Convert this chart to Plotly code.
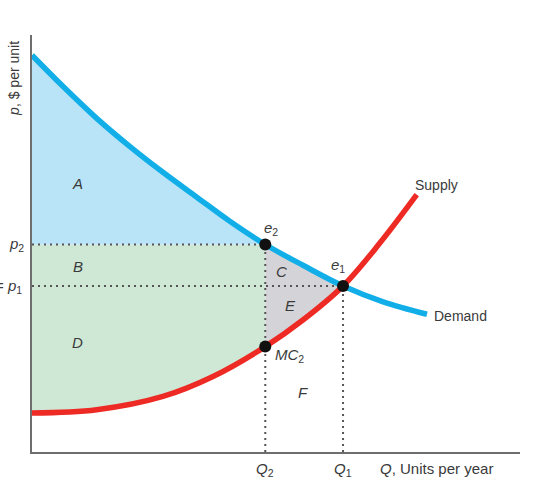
import plotly.graph_objects as go

# ---- data ----
q_demand = [0, 10.1, 20.8, 31.5, 42.1, 53.0, 63.6, 75, 87.1, 100, 112.9, 127]
p_demand = [47.8, 44.0, 40.2, 36.8, 33.7, 30.7, 27.8, 25.0, 22.5, 20.0, 18.1, 16.6]
q_supply = [0, 20.8, 42.1, 58.2, 75, 87.1, 100, 111.9, 123.7]
p_supply = [4.7, 5.1, 6.7, 9.1, 12.7, 15.9, 20.0, 25.2, 31.0]
Q1, Q2 = 100, 75
p1, p2 = 20.0, 25.0
MC2 = 12.7

BLUE = "#12AEE8"
RED = "#EE2A24"
FILL_BLUE = "#B9E4F8"
FILL_GREEN = "#CFE8D6"
FILL_GRAY = "#D4D4D8"
TXT = "#3a3a3a"
DOT = "#555555"
FONT = "Liberation Sans, Arial, sans-serif"

i2d = q_demand.index(Q2)
i1d = q_demand.index(Q1)
i2s = q_supply.index(Q2)
i1s = q_supply.index(Q1)

fig = go.Figure()

def add(**kw):
    kw.setdefault("showlegend", False)
    kw.setdefault("hoverinfo", "skip")
    fig.add_trace(go.Scatter(**kw))

# green area (B + D): between supply and p2 from 0 to Q2
add(x=q_supply[:i2s + 1], y=p_supply[:i2s + 1], mode="lines",
    line=dict(width=0, shape="spline"))
add(x=[0, Q2], y=[p2, p2], mode="lines", line=dict(width=0),
    fill="tonexty", fillcolor=FILL_GREEN)
# blue area (A): between p2 and demand from 0 to Q2
add(x=q_demand[:i2d + 1], y=p_demand[:i2d + 1], mode="lines",
    line=dict(width=0, shape="spline"), fill="tonexty", fillcolor=FILL_BLUE)
# gray area (C + E): between supply and demand from Q2 to Q1
add(x=q_supply[i2s:i1s + 1], y=p_supply[i2s:i1s + 1], mode="lines",
    line=dict(width=0, shape="spline"))
add(x=q_demand[i2d:i1d + 1], y=p_demand[i2d:i1d + 1], mode="lines",
    line=dict(width=0, shape="spline"), fill="tonexty", fillcolor=FILL_GRAY)

# dotted guide lines
dot_line = dict(color=DOT, width=2, dash="2px,4px")
add(x=[0, Q2], y=[p2, p2], mode="lines", line=dot_line)
add(x=[0, Q1], y=[p1, p1], mode="lines", line=dot_line)
add(x=[Q2, Q2], y=[0, p2], mode="lines", line=dot_line)
add(x=[Q1, Q1], y=[0, p1], mode="lines", line=dot_line)

# curves
add(x=q_demand, y=p_demand, mode="lines", line=dict(color=BLUE, width=5.5, shape="spline"))
add(x=q_supply, y=p_supply, mode="lines", line=dict(color=RED, width=5.5, shape="spline"))

# points
add(x=[Q2, Q1, Q2], y=[p2, p1, MC2], mode="markers",
    marker=dict(color="#111111", size=12))

ann = []
def label(x, y, text, size=15, xref="x", yref="y", **kw):
    ann.append(dict(x=x, y=y, xref=xref, yref=yref, text=text, showarrow=False,
                    font=dict(family=FONT, size=size, color=TXT), **kw))

# region letters
label(14.7, 32.4, "<i>A</i>")
label(14.7, 22.3, "<i>B</i>")
label(14.7, 13.2, "<i>D</i>")
label(80.3, 21.7, "<i>C</i>")
label(83.0, 17.6, "<i>E</i>")
label(87.0, 7.2, "<i>F</i>")

# point labels
label(Q2, p2, "<i>e</i><sub>2</sub>", xshift=6, yshift=16)
label(Q1, p1, "<i>e</i><sub>1</sub>", xshift=-5, yshift=21)
label(Q2, MC2, "<i>MC</i><sub>2</sub>", xanchor="left", xshift=8, yshift=-9)

# curve labels
label(q_supply[-1], p_supply[-1], "Supply", size=14, xshift=20, yshift=10)
label(q_demand[-1], p_demand[-1], "Demand", size=14, xanchor="left", xshift=5, yshift=-2)

# axis labels
label(Q2, 0, "<i>Q</i><sub>2</sub>", yanchor="top", yshift=-6)
label(Q1, 0, "<i>Q</i><sub>1</sub>", yanchor="top", yshift=-6)
label(130.2, 0, "<i>Q</i>, Units per year", yanchor="top", yshift=-6)
label(0, p2, "<i>p</i><sub>2</sub>", xanchor="right", xshift=-6)
label(0, p1, "= <i>p</i><sub>1</sub>", xanchor="right", xshift=-8)
label(-0.037, 0.897, "<i>p</i>, $ per unit", xref="paper", yref="paper",
      xanchor="center", yanchor="middle", textangle=-90, size=14)

fig.update_layout(
    width=560, height=499,
    margin=dict(l=32, r=40, t=35, b=47),
    paper_bgcolor="white", plot_bgcolor="white",
    annotations=ann,
    xaxis=dict(range=[0, 156.9], showline=True, linecolor="#6e6e6e", linewidth=2,
               showgrid=False, zeroline=False, showticklabels=False, ticks=""),
    yaxis=dict(range=[0, 50.24], showline=True, linecolor="#6e6e6e", linewidth=2,
               showgrid=False, zeroline=False, showticklabels=False, ticks=""),
)

fig.write_html("out.html")
